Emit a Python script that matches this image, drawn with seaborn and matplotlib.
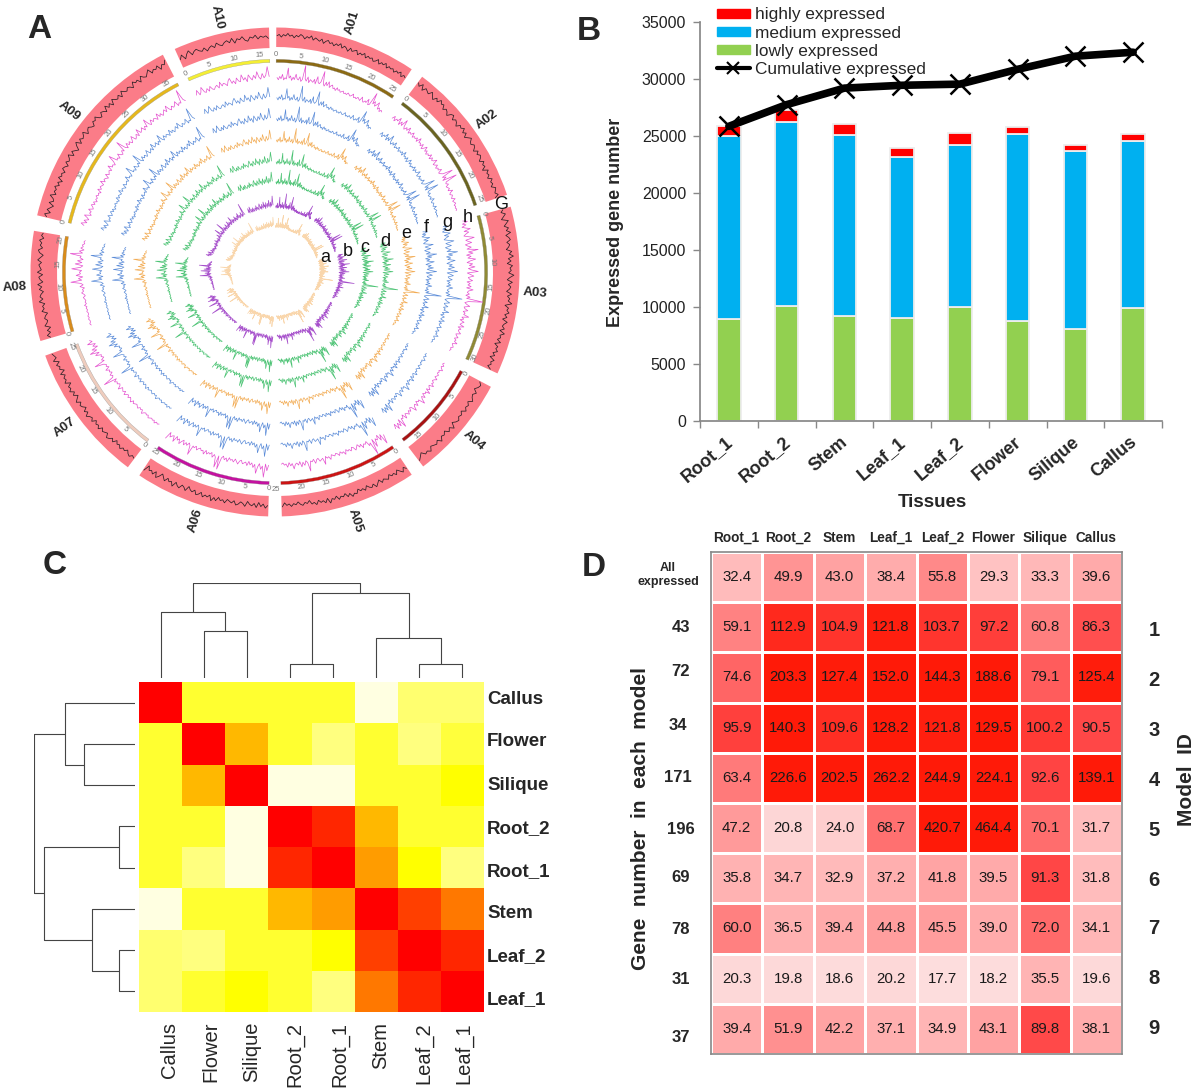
import numpy as np
import pandas as pd
import seaborn as sns
import matplotlib.pyplot as plt
from matplotlib.colors import LinearSegmentedColormap
from matplotlib.patches import Patch
from matplotlib.lines import Line2D
from matplotlib.transforms import ScaledTranslation

W, H = 1200, 1091

# Panel A
CHROMS = ['A01', 'A02', 'A03', 'A04', 'A05', 'A06', 'A07', 'A08', 'A09', 'A10']
CHROM_START = [0.3, 37, 74.5, 118, 146, 181.6, 217, 253.6, 283.4, 335.8]
CHROM_END = [34, 71.6, 114.5, 142.7, 178.4, 213.7, 250, 279.7, 332.7, 358.6]
CHROM_SIZE = [26, 26, 31, 18, 24, 25, 25, 21, 37, 17]
CHROM_TICK_MAX = [25, 25, 30, 15, 25, 25, 25, 20, 35, 15]
CHROM_COLOR = ['#8B6A14', '#6A6420', '#8F8A35', '#A81212', '#CC1414', '#C412A0',
               '#EFCDBE', '#D88C1C', '#E6B81C', '#F4EE34']
BAND_INNER = [225, 222, 218, 220, 224, 224, 222, 218, 220, 224]

PROFILE = {
    'A01': [5,3,6,4,8,3,5,4,14,5,7,3,6,4,9,5,4,7,3,5,18,6,4,8,3,6,5,4,7,3,10,5,4,6,16,5,3,7,4,8,3,5,6,3,4,2,5,3,4,2,3,4,2,3,2,4,3,2,3,5,2,3,2,4,3,2,6,3,2,4,3,7,2,3,15,5,8,4,6,9,3,5,2,4,3],
    'A02': [4,7,3,6,5,9,3,7,4,11,5,3,6,4,8,3,5,4,7,3,5,4,6,3,8,4,5,3,6,2,4,7,3,5,2,4,3,6,2,5,3,4,7,2,3,5,2,4,3,6,2,3,5,14,3,6,2,15,4,3,5,2,3,4,2,6,3,2,4,3,2,5,2,3,4,2,3,2,3,2],
    'A03': [5,9,4,7,3,6,10,4,8,5,3,7,12,4,6,9,3,5,8,4,14,5,9,3,7,4,11,6,3,8,5,10,4,7,13,3,6,9,4,5,8,3,6,4,7,3,9,5,4,6,3,7,4,19,6,3,5,8,3,4,7,3,5,4,9,3,5,2,6,4,3,7,2,5,3,4,6,2,3,5,2,4,3,6,2,3,4,2,3,2],
    'A04': [3,2,4,2,3,5,2,3,2,4,3,2,5,3,2,4,3,6,2,3,5,2,7,3,4,2,6,3,5,9,3,4,2,6,3,4,8,3,2,5,3,6,4,3,7,2,5,4,12,3,9,5,10,4,8],
    'A05': [6,14,4,9,3,7,5,12,4,18,6,8,3,5,4,7,3,5,2,4,6,3,2,5,3,4,2,6,3,4,2,5,3,2,4,3,2,6,3,4,2,9,3,4,5,2,3,6,2,4,3,12,4,2,6,3,7,2,5,3,4,8,3,5,2,6,3,4,2,3],
    'A06': [4,9,3,15,5,8,3,6,12,4,7,3,5,2,6,3,4,5,2,3,6,4,2,5,3,4,2,6,3,5,2,4,15,3,14,5,3,6,2,4,3,5,2,6,3,4,2,3,5,2,4,3,12,4,2,5,3,6,2,4,7,3,5,2,8,3,4,6,2,9],
    'A07': [2,3,2,4,2,3,2,3,4,2,3,2,3,5,2,3,2,4,3,2,3,4,2,5,3,2,4,2,3,5,2,4,3,2,6,3,2,4,3,5,2,14,4,3,5,2,4,3,6,2,4,3,5,13,3,5,2,4,3,8,4,12,5,9,3,7,4,11,6,8],
    'A08': [2,3,2,2,3,2,3,2,2,3,2,3,2,4,2,3,2,3,4,2,3,5,3,4,2,6,3,5,14,4,7,3,9,5,6,4,13,5,3,10,4,8,3,6,5,15,4,7,3,6,4,5,3,4,3],
    'A09': [7,10,5,8,4,6,9,3,5,4,7,3,4,6,3,5,2,4,3,5,3,4,2,6,3,5,4,3,7,3,5,4,2,6,3,4,5,3,8,4,5,3,6,12,4,5,3,7,4,3,6,4,14,5,3,7,4,6,3,5,8,3,4,6,3,9,4,5,7,3,6,4,11,5,3,7,4,6,5,3,8,4,6,3,5,7,4,9,5,3,6,4,5,8,3,5,4,16,6,4],
    'A10': [4,8,3,5,9,4,3,6,3,7,4,3,5,6,3,8,4,6,5,3,7,9,4,6,3,8,5,4,10,5,7,3,9,6,4,8,5,11,6,4,9,5,7,15,6],
}

DENSITY = {
    'A01': [6,7,5,7,6,8,6,7,5,7,6,8,7,5,7,6,8,5,7,6,5,7,4,6,7,5,6,4,6,5,7,4,6,5,3,6,4,5,6,3,5,4,6,3,5,4,5,3,4,6,3,5,4,6,3,5,4,5,3,5,4,6,3,5,4],
    'A02': [7,5,8,4,7,6,5,8,6,4,7,5,8,6,7,4,6,5,3,6,7,4,6,5,3,6,5,7,4,6,3,5,7,5,4,6,5,3,6,4,6,5,3,6,4,5,2,6,4,5,3,6,4,5,3,6,5,4,6,3],
    'A03': [6,4,7,5,3,8,6,4,7,5,8,4,6,7,4,6,5,3,7,5,8,4,6,3,7,5,6,4,8,5,3,7,4,6,5,3,7,4,6,5,8,3,6,5,7,4,6,3,7,5,4,6,3,7,4,5,3,6,2,5,4,6,3,5,2,6,4,5,3,6],
    'A04': [3,5,4,2,5,3,4,6,3,5,4,6,3,5,4,6,5,3,7,4,6,3,5,4,7,4,6,5,4,7,5,6,3,5,7],
    'A05': [6,4,7,5,3,6,4,5,3,6,5,4,6,3,5,7,4,6,5,3,6,4,5,3,6,5,7,4,6,3,5,4,6,3,5,4,7,3,6,4,5,3,6,4,5,2,4,3,5,4,2,4,3,5,3,4,2,5],
    'A06': [4,6,3,5,2,6,3,5,4,2,6,4,3,5,6,3,5,4,3,6,4,5,3,6,4,7,3,5,4,6,3,5,6,3,5,4,2,6,4,3,6,5,3,7,4,5,3,6,4,2,5,7,3,6,4,5,2,7],
    'A07': [4,3,5,4,2,4,3,5,3,4,2,5,3,5,6,3,4,5,3,6,4,5,3,6,4,5,7,4,6,3,5,6,4,7,5,3,6,4,7,5,6,3,7,5,6,4,7,3,6,5,7,4,8,5,6,7],
    'A08': [4,6,3,5,2,6,4,3,5,4,2,6,4,5,3,7,4,6,5,3,6,4,7,3,5,6,3,7,4,5,6,4,7,5,3,6,7,4,6,5,7,4,6,5],
    'A09': [5,7,3,6,4,2,6,3,4,7,3,5,4,6,3,5,2,6,4,5,3,6,5,3,6,4,5,7,3,6,4,2,5,7,3,6,4,5,7,3,5,6,4,3,6,5,7,4,3,6,5,3,7,4,6,3,7,5,4,6,3,7,5,4,6,5,3,7,5,6,3,7,5,4,6,8,4,6,5,7,3,6,5,8],
    'A10': [3,6,2,5,7,3,5,6,4,3,5,2,4,5,3,6,4,3,5,6,4,7,3,6,5,7,4,3,6,5,7,4,6,5,6,4],
}

TRACK_NAME = ['a', 'b', 'c', 'd', 'e', 'f', 'g', 'h']
TRACK_BASE = [42, 61, 85, 105, 127, 148, 169, 189]
TRACK_AMP = [17, 20, 20, 20, 20, 21, 21, 22]
TRACK_COLOR = ['#F9D6AC', '#A64FCB', '#4CC374', '#4CC374', '#F2AC55', '#5A8BD8', '#5A8BD8', '#E44FCF']
TRACK_LABEL_X = [325, 348, 365, 385, 406, 426, 447, 468]
TRACK_LABEL_Y = [257, 251, 247, 241, 234, 228, 222, 217]

# Panel B
TISSUES = ['Root_1', 'Root_2', 'Stem', 'Leaf_1', 'Leaf_2', 'Flower', 'Silique', 'Callus']
LOWLY = [8950, 10050, 9200, 9050, 10000, 8750, 8100, 9900]
MEDIUM = [16050, 16200, 15900, 14150, 14250, 16450, 15550, 14700]
HIGHLY = [850, 1000, 950, 750, 1000, 550, 550, 600]
CUMULATIVE = [25850, 27750, 29200, 29450, 29550, 30850, 32000, 32350]

# Panel C
CLUSTER_ORDER = ['Callus', 'Flower', 'Silique', 'Root_2', 'Root_1', 'Stem', 'Leaf_2', 'Leaf_1']
CORR = [
    [1.00, .38, .38, .38, .38, .08, .28, .28],
    [.38, 1.00, .66, .38, .25, .38, .25, .36],
    [.38, .66, 1.00, .08, .08, .38, .38, .45],
    [.38, .38, .08, 1.00, .94, .66, .38, .38],
    [.38, .25, .08, .94, 1.00, .72, .45, .25],
    [.08, .38, .38, .66, .72, 1.00, .90, .80],
    [.28, .25, .38, .38, .45, .90, 1.00, .94],
    [.28, .38, .45, .38, .25, .80, .94, 1.00],
]
DENDRO_TOP = ((0, (1, 2, .50), .69), ((3, 4, .148), (5, (6, 7, .148), .42), .895), 1.0)
DENDRO_LEFT = ((0, (1, 2, .505), .695), ((3, 4, .154), (5, (6, 7, .154), .43), .90), 1.0)
C_ROW_Y = [700, 741, 786, 829, 872, 914, 957, 1000]
C_COL_X = [169, 211, 252, 295, 340, 381, 424, 464]

# Panel D
MODEL_VALUES = [
    [32.4, 49.9, 43.0, 38.4, 55.8, 29.3, 33.3, 39.6],
    [59.1, 112.9, 104.9, 121.8, 103.7, 97.2, 60.8, 86.3],
    [74.6, 203.3, 127.4, 152.0, 144.3, 188.6, 79.1, 125.4],
    [95.9, 140.3, 109.6, 128.2, 121.8, 129.5, 100.2, 90.5],
    [63.4, 226.6, 202.5, 262.2, 244.9, 224.1, 92.6, 139.1],
    [47.2, 20.8, 24.0, 68.7, 420.7, 464.4, 70.1, 31.7],
    [35.8, 34.7, 32.9, 37.2, 41.8, 39.5, 91.3, 31.8],
    [60.0, 36.5, 39.4, 44.8, 45.5, 39.0, 72.0, 34.1],
    [20.3, 19.8, 18.6, 20.2, 17.7, 18.2, 35.5, 19.6],
    [39.4, 51.9, 42.2, 37.1, 34.9, 43.1, 89.8, 38.1],
]
GENE_COUNTS = ['43', '72', '34', '171', '196', '69', '78', '31', '37']
GENE_COUNT_X = [681, 681, 678, 678, 681, 681, 681, 681, 681]
GENE_COUNT_Y = [628, 672, 725, 778, 829, 878, 929, 979, 1037]
MODEL_IDS = ['1', '2', '3', '4', '5', '6', '7', '8', '9']
MODEL_ID_Y = [630, 680, 730, 780, 830, 880, 929, 979, 1029]

sns.set_theme(style='white')
plt.rcParams['font.family'] = ['Liberation Sans', 'DejaVu Sans']

fig = plt.figure(figsize=(W / 100, H / 100), dpi=100, facecolor='white')


def px_axes(x0, y0, x1, y1, **kw):
    return fig.add_axes([x0 / W, 1 - y1 / H, (x1 - x0) / W, (y1 - y0) / H], **kw)


def px_text(x, y, s, **kw):
    kw.setdefault('ha', 'center')
    kw.setdefault('va', 'center')
    return fig.text(x / W, 1 - y / H, s, **kw)


# --- A: circular genome plot, r axis is in pixels
RMAX = 275
ax_a = px_axes(275 - RMAX, 272 - RMAX, 275 + RMAX, 272 + RMAX, projection='polar')
ax_a.set_theta_zero_location('N')
ax_a.set_theta_direction(-1)
ax_a.set_rlim(0, RMAX)
ax_a.axis('off')

for i, name in enumerate(CHROMS):
    t0, t1 = CHROM_START[i], CHROM_END[i]
    mid = (t0 + t1) / 2
    ax_a.bar(np.radians(mid), 244.5 - BAND_INNER[i], width=np.radians(t1 - t0), bottom=BAND_INNER[i],
             color='#FB7C88', linewidth=0)
    ax_a.bar(np.radians(mid), 3.2, width=np.radians(t1 - t0), bottom=209.5, color=CHROM_COLOR[i], linewidth=0.2,
             edgecolor='#888888')

    dens = np.array(DENSITY[name])
    sns.lineplot(x=np.radians(np.linspace(t0 + 0.2, t1 - 0.2, len(dens))), y=235 + (dens - 5) * 1.3, ax=ax_a,
                 color='#2A2025', lw=0.55, estimator=None, sort=False, errorbar=None)

    prof = np.array(PROFILE[name])
    theta = np.radians(np.linspace(t0 + 0.3, t1 - 0.3, len(prof)))
    for k in range(len(TRACK_BASE)):
        sns.lineplot(x=theta, y=TRACK_BASE[k] + prof * TRACK_AMP[k] / 20, ax=ax_a, color=TRACK_COLOR[k],
                     lw=0.5, estimator=None, sort=False, errorbar=None)

    # position labels along the ring
    for v in range(0, CHROM_TICK_MAX[i] + 1, 5):
        t = t0 + v / CHROM_SIZE[i] * (t1 - t0)
        rot = -t if t < 90 or t > 270 else 180 - t
        ax_a.text(np.radians(t), 217, str(v), fontsize=5.5, color='#777777', rotation=rot,
                  rotation_mode='anchor', ha='center', va='center')

    rot = 90 - mid if mid < 180 else 270 - mid
    ax_a.text(np.radians(mid), 261, name, fontsize=9.5, fontweight='bold', rotation=rot,
              rotation_mode='anchor', ha='center', va='center', clip_on=False)

for k, name in enumerate(TRACK_NAME):
    px_text(TRACK_LABEL_X[k], TRACK_LABEL_Y[k], name, fontsize=13, color='#111111')
px_text(501, 204, 'G', fontsize=13, color='#111111')

# --- B: stacked bars
ax_b = px_axes(700, 22, 1162, 421)
bar_kw = dict(width=0.41, saturation=1, edgecolor='#EDEDED', linewidth=1.3, ax=ax_b, order=TISSUES)
low = np.array(LOWLY)
med = np.array(MEDIUM)
sns.barplot(x=TISSUES, y=LOWLY, color='#92D050', **bar_kw)
sns.barplot(x=TISSUES, y=MEDIUM, bottom=low, color='#00B0F0', **bar_kw)
sns.barplot(x=TISSUES, y=HIGHLY, bottom=low + med, color='#FF0000', **bar_kw)
sns.lineplot(x=np.arange(len(TISSUES)), y=CUMULATIVE, color='black', lw=5.5, marker='x', markersize=15,
             markeredgewidth=1.8, markeredgecolor='black', ax=ax_b, zorder=5)
ax_b.set_xlim(-0.5, 7.5)
ax_b.set_ylim(0, 35000)
ax_b.set_yticks(range(0, 35001, 5000))
ax_b.tick_params(axis='y', labelsize=11.5, length=5, width=1, color='#888888', left=True, pad=5, labelcolor='#222222')
ax_b.set_xticks(np.arange(-0.5, 8), minor=True)
ax_b.tick_params(axis='x', which='minor', length=5, width=1, color='#888888', bottom=True)
ax_b.tick_params(axis='x', which='major', length=0, pad=9)
ax_b.set_xticks(range(8))
ax_b.set_xticklabels(TISSUES, rotation=40, ha='right', rotation_mode='anchor', fontsize=13, fontweight='bold')
shift = ScaledTranslation(-4 / 100, 0, fig.dpi_scale_trans)
for lab in ax_b.get_xticklabels():
    lab.set_transform(lab.get_transform() + shift)
for s in ['top', 'right']:
    ax_b.spines[s].set_visible(False)
for s in ['left', 'bottom']:
    ax_b.spines[s].set_color('#888888')
ax_b.set_xlabel('')
ax_b.set_ylabel('')
px_text(615, 222, 'Expressed gene number', rotation=90, fontsize=13, fontweight='bold')
px_text(932, 502, 'Tissues', fontsize=13.5, fontweight='bold')
handles = [Patch(color='#FF0000'), Patch(color='#00B0F0'), Patch(color='#92D050'),
           Line2D([], [], color='black', lw=3, marker='x', markersize=9, markeredgewidth=1.5)]
fig.legend(handles, ['highly expressed', 'medium expressed', 'lowly expressed', 'Cumulative expressed'],
           loc='upper left', bbox_to_anchor=(717 / W, 1 - 7.5 / H), frameon=False, fontsize=12.4,
           labelspacing=0.18, handlelength=1.9, handleheight=0.45, handletextpad=0.3, borderpad=0, borderaxespad=0)

# --- C: clustered correlation heatmap
heat_cmap = LinearSegmentedColormap.from_list('heat', [
    (0, '#FFFFFF'), (.08, '#FFFFE0'), (.25, '#FFFF80'), (.38, '#FFFF30'), (.45, '#FFFF00'),
    (.66, '#FFB800'), (.80, '#FF7800'), (.90, '#FF4000'), (1, '#FF0000')])
ax_c = px_axes(139, 682, 484, 1012)
corr_df = pd.DataFrame(CORR, index=CLUSTER_ORDER, columns=CLUSTER_ORDER)
sns.heatmap(corr_df, cmap=heat_cmap, vmin=0, vmax=1, cbar=False, xticklabels=False, yticklabels=False, ax=ax_c)
ax_c.set_xlabel('')
ax_c.set_ylabel('')
for k, name in enumerate(CLUSTER_ORDER):
    px_text(487, C_ROW_Y[k], name, ha='left', fontsize=13.5, fontweight='bold')
    px_text(C_COL_X[k], 1022, name, rotation=90, va='top', fontsize=14.5)


def draw_tree(ax, node, top):
    # node is a leaf index or (left, right, height); returns its position and height
    if not isinstance(node, tuple):
        return node + 0.5, 0.0
    p0, h0 = draw_tree(ax, node[0], top)
    p1, h1 = draw_tree(ax, node[1], top)
    h = node[2]
    xs, ys = [p0, p0, p1, p1], [h0, h, h, h1]
    if top:
        ax.plot(xs, ys, color='#444444', lw=0.8)
    else:
        ax.plot(ys, xs, color='#444444', lw=0.8)
    return (p0 + p1) / 2, h


ax_top = px_axes(139, 583, 484, 678)
draw_tree(ax_top, DENDRO_TOP, True)
ax_top.set_xlim(0, 8)
ax_top.set_ylim(0, 1)
ax_top.axis('off')

ax_left = px_axes(34, 682, 135, 1012)
draw_tree(ax_left, DENDRO_LEFT, False)
ax_left.set_xlim(1, 0)
ax_left.set_ylim(8, 0)
ax_left.axis('off')

# --- D: model expression table
red_cmap = LinearSegmentedColormap.from_list('reds_d', [
    (0, '#FFFFFF'), (18 / 130, '#FDDCDC'), (30 / 130, '#FFC0C0'), (40 / 130, '#FFA8A8'), (60 / 130, '#FF8080'),
    (90 / 130, '#FF4848'), (120 / 130, '#FF2010'), (1, '#FF1A08')])
ax_d = px_axes(711, 552, 1122, 1054)
sns.heatmap(np.array(MODEL_VALUES), cmap=red_cmap, vmin=0, vmax=130, cbar=False, annot=True, fmt='.1f',
            annot_kws={'fontsize': 10.8, 'color': '#1A1A1A'}, linewidths=0.9, linecolor='white',
            xticklabels=TISSUES, yticklabels=False, ax=ax_d)
ax_d.xaxis.tick_top()
ax_d.tick_params(axis='x', length=0, pad=5, labelrotation=0)
for lab in ax_d.get_xticklabels():
    lab.set_fontsize(9.8)
    lab.set_fontweight('bold')
for s in ax_d.spines.values():
    s.set_visible(True)
    s.set_color('#888888')
    s.set_linewidth(1.2)
px_text(668, 575, 'All\nexpressed', fontsize=9, fontweight='bold', linespacing=1.25)
for k in range(9):
    px_text(GENE_COUNT_X[k], GENE_COUNT_Y[k], GENE_COUNTS[k], fontsize=12, fontweight='bold')
    px_text(1154, MODEL_ID_Y[k], MODEL_IDS[k], fontsize=14.5, fontweight='bold')
px_text(640, 818, 'Gene  number  in  each  model', rotation=90, fontsize=15, fontweight='bold')
px_text(1186, 780, 'Model  ID', rotation=90, fontsize=15, fontweight='bold')

# panel letters
px_text(39, 29, 'A', fontsize=24, fontweight='bold')
px_text(589, 31, 'B', fontsize=24, fontweight='bold')
px_text(55, 566, 'C', fontsize=24, fontweight='bold')
px_text(594, 567, 'D', fontsize=24, fontweight='bold')

fig.savefig('out.png', dpi=100)
